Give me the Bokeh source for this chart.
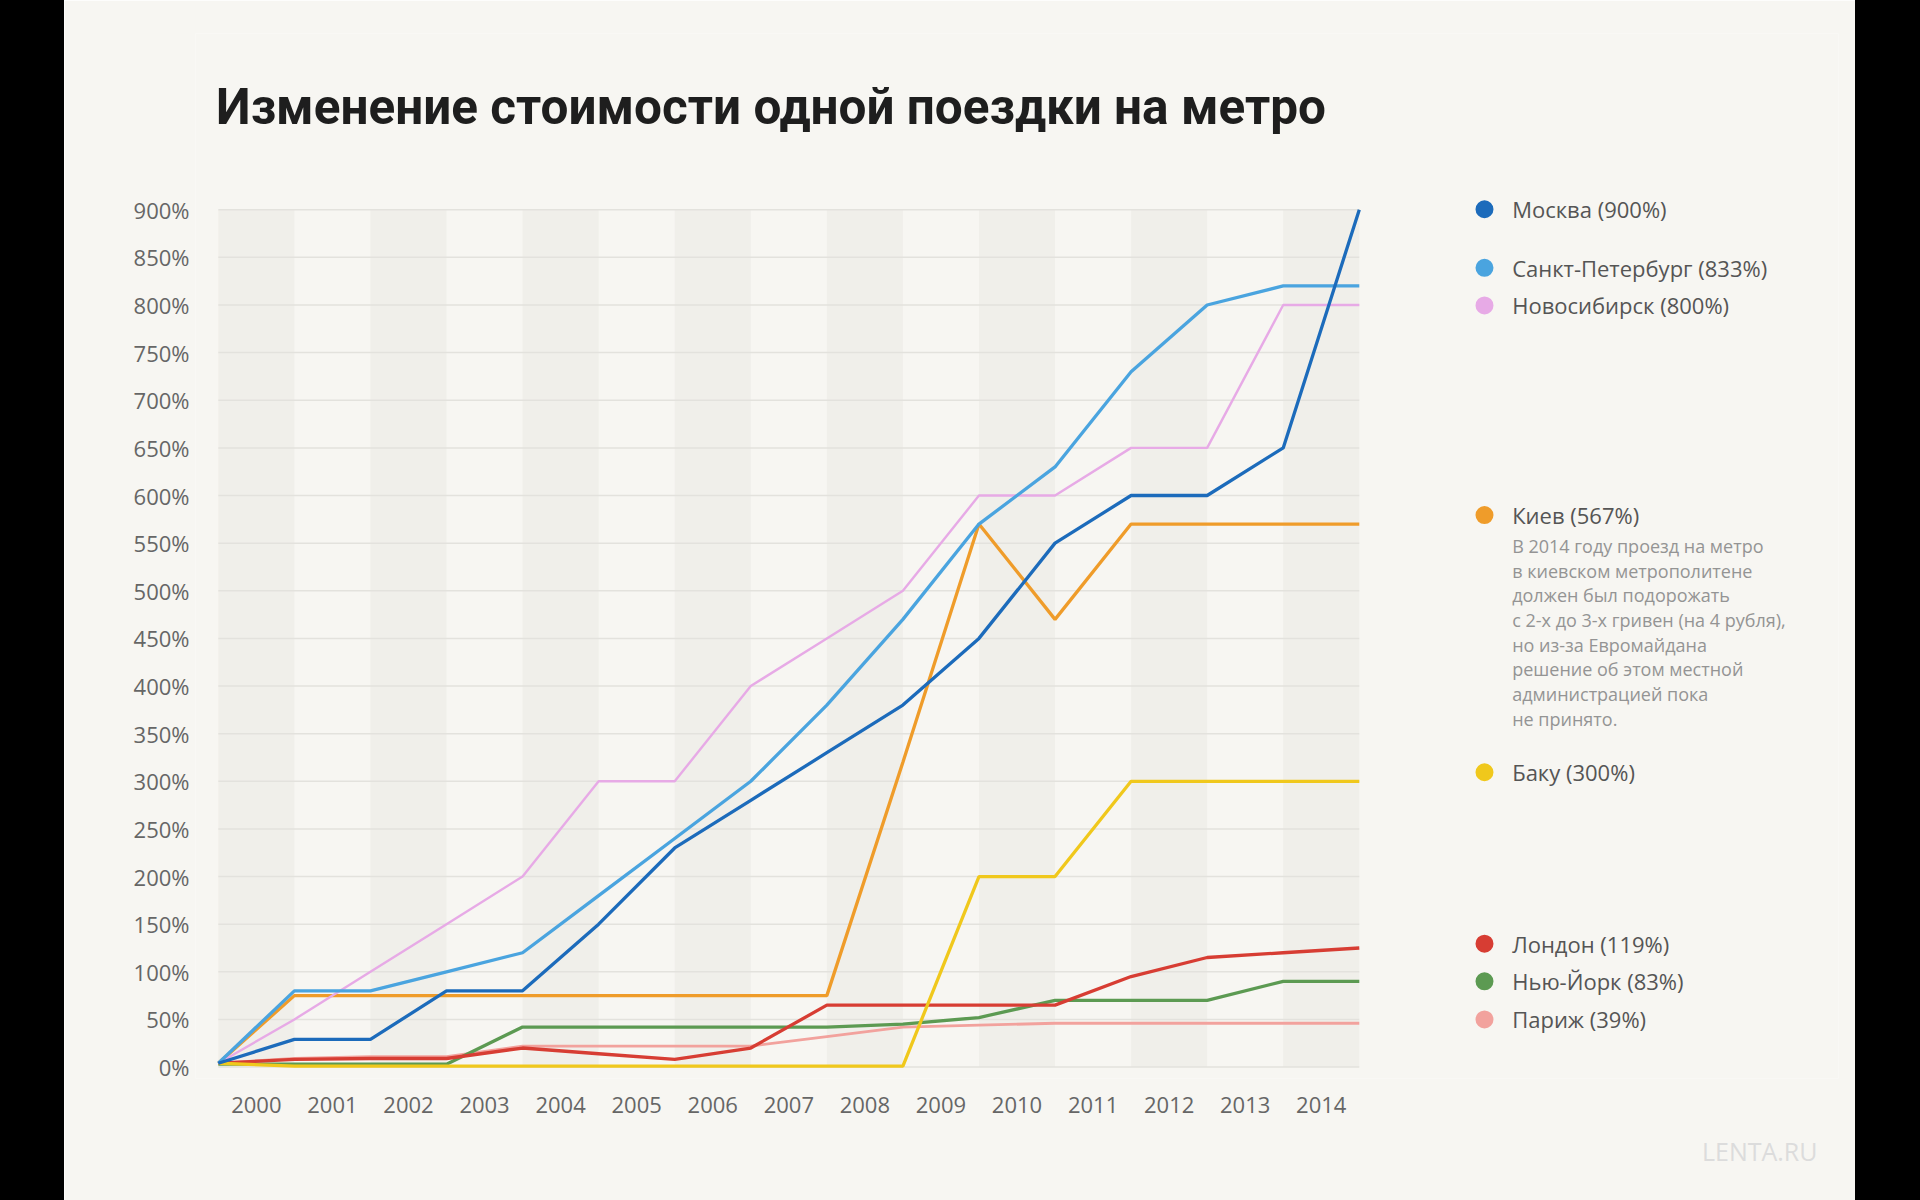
from bokeh.plotting import figure
from bokeh.models import Range1d, FixedTicker, PrintfTickFormatter, Title, Div
from bokeh.layouts import row
from bokeh.core.properties import value
from bokeh.embed import file_html
from bokeh.resources import INLINE

# ---------------- data ----------------
years = ["2000", "2001", "2002", "2003", "2004", "2005", "2006", "2007",
         "2008", "2009", "2010", "2011", "2012", "2013", "2014"]
# data points sit on the year boundaries (start of 2000 ... end of 2014)
points = list(range(len(years) + 1))

moscow      = [4, 29, 29, 80, 80, 150, 230, 280, 330, 380, 450, 550, 600, 600, 650, 900]
spb         = [4, 80, 80, 100, 120, 180, 240, 300, 380, 470, 570, 630, 730, 800, 820, 820]
novosibirsk = [4, 50, 100, 150, 200, 300, 300, 400, 450, 500, 600, 600, 650, 650, 800, 800]
kiev        = [4, 75, 75, 75, 75, 75, 75, 75, 75, 320, 570, 470, 570, 570, 570, 570]
baku        = [4, 1, 1, 1, 1, 1, 1, 1, 1, 1, 200, 200, 300, 300, 300, 300]
london      = [4, 8, 9, 9, 20, 14, 8, 20, 65, 65, 65, 65, 95, 115, 120, 125]
newyork     = [3, 3, 3, 3, 42, 42, 42, 42, 42, 45, 52, 70, 70, 70, 90, 90]
paris       = [4, 9, 11, 11, 22, 22, 22, 22, 32, 42, 44, 46, 46, 46, 46, 46]

legend_names = ["Москва (900%)", "Санкт-Петербург (833%)", "Новосибирск (800%)",
                "Киев (567%)", "Баку (300%)", "Лондон (119%)", "Нью-Йорк (83%)",
                "Париж (39%)"]
kiev_note = ["В 2014 году проезд на метро",
             "в киевском метрополитене",
             "должен был подорожать",
             "с 2-х до 3-х гривен (на 4 рубля),",
             "но из-за Евромайдана",
             "решение об этом местной",
             "администрацией пока",
             "не принято."]
title_text = "Изменение стоимости одной поездки на метро"
y_ticks = list(range(0, 901, 50))

# ---------------- styling ----------------
BG = "#f7f6f2"
BAND = "#f0efea"
GRID = "#e3e2dd"
colors = {
    "moscow": "#1c6bbb",
    "spb": "#4aa4df",
    "novosibirsk": "#e7aae6",
    "kiev": "#ef9c2a",
    "baku": "#f0c81c",
    "london": "#d73d33",
    "newyork": "#5c9a52",
    "paris": "#f2a29d",
}
series = [("paris", paris, 2.8), ("newyork", newyork, 3.3), ("london", london, 3.3),
          ("baku", baku, 3.3), ("kiev", kiev, 3.3), ("novosibirsk", novosibirsk, 2.4),
          ("spb", spb, 3.3), ("moscow", moscow, 3.3)]
legend_keys = ["moscow", "spb", "novosibirsk", "kiev", "baku", "london", "newyork", "paris"]
# legend row positions (layout, in % units of the y scale)
legend_y = [900.5, 839, 799.5, 579.5, 309.5, 129.5, 90, 50]
note_y0, note_step = 547, 25.9
legend_dot_x, legend_text_x = 16.646, 17.01

FONT = "Open Sans"

p = figure(frame_width=1643, frame_height=1045,
           min_border_left=131, min_border_right=17,
           min_border_top=33, min_border_bottom=122,
           x_range=Range1d(-0.3, 21.3), y_range=Range1d(-12, 1085),
           output_backend="svg", toolbar_location=None, margin=0)
p.background_fill_color = BG
p.border_fill_color = BG
p.outline_line_color = None
p.grid.visible = False

# alternating year bands
n = len(years)
p.quad(left=[points[i] for i in range(0, n, 2)],
       right=[points[i + 1] for i in range(0, n, 2)],
       bottom=y_ticks[0], top=y_ticks[-1],
       fill_color=BAND, line_color=None)

# horizontal grid lines
p.segment(x0=[points[0]] * len(y_ticks), x1=[points[-1]] * len(y_ticks),
          y0=y_ticks, y1=y_ticks, line_color=GRID, line_width=1.5)

for key, vals, w in series:
    p.line(points, vals, line_color=colors[key], line_width=w)

# legend
p.scatter([legend_dot_x] * len(legend_keys), legend_y,
          color=[colors[k] for k in legend_keys], size=18, line_color=None)
p.text([legend_text_x] * len(legend_names), legend_y, text=legend_names,
       text_font=value(FONT), text_font_size="22px", text_color="#555555",
       text_baseline="middle", text_align="left")
p.text([legend_text_x] * len(kiev_note),
       [note_y0 - i * note_step for i in range(len(kiev_note))], text=kiev_note,
       text_font=value(FONT), text_font_size="18px", text_color="#949494",
       text_baseline="middle", text_align="left")

# title
p.text([-0.03], [1007.5], text=[title_text], text_font=value("Roboto"),
       text_font_style="bold", text_font_size="49.5px", text_color="#1e1e1e",
       text_baseline="alphabetic", text_align="left")

# axes
p.yaxis.ticker = FixedTicker(ticks=y_ticks)
p.yaxis.formatter = PrintfTickFormatter(format="%d%%")
centers = [i + 0.5 for i in range(n)]
p.xaxis.ticker = FixedTicker(ticks=centers)
p.xaxis.major_label_overrides = {c: y for c, y in zip(centers, years)}
for ax in (p.xaxis, p.yaxis):
    ax.axis_line_color = None
    ax.major_tick_line_color = None
    ax.minor_tick_line_color = None
    ax.major_tick_out = 0
    ax.major_tick_in = 0
    ax.major_label_text_font = FONT
    ax.major_label_text_font_size = "22px"
    ax.major_label_text_color = "#666666"
p.yaxis.major_label_standoff = 6
p.xaxis.major_label_standoff = 18

p.add_layout(Title(text="LENTA.RU", align="right", text_font=FONT,
                   text_font_size="25px", text_font_style="normal",
                   text_color="#dcdcdc", offset=21, standoff=32), "below")

left_bar = Div(text="", width=64, height=1200, margin=0,
               styles={"background-color": "#000000"})
right_bar = Div(text="", width=65, height=1200, margin=0,
                styles={"background-color": "#000000"})
layout = row(left_bar, p, right_bar, spacing=0, margin=0)

open("out.html", "w").write(file_html(layout, INLINE))
